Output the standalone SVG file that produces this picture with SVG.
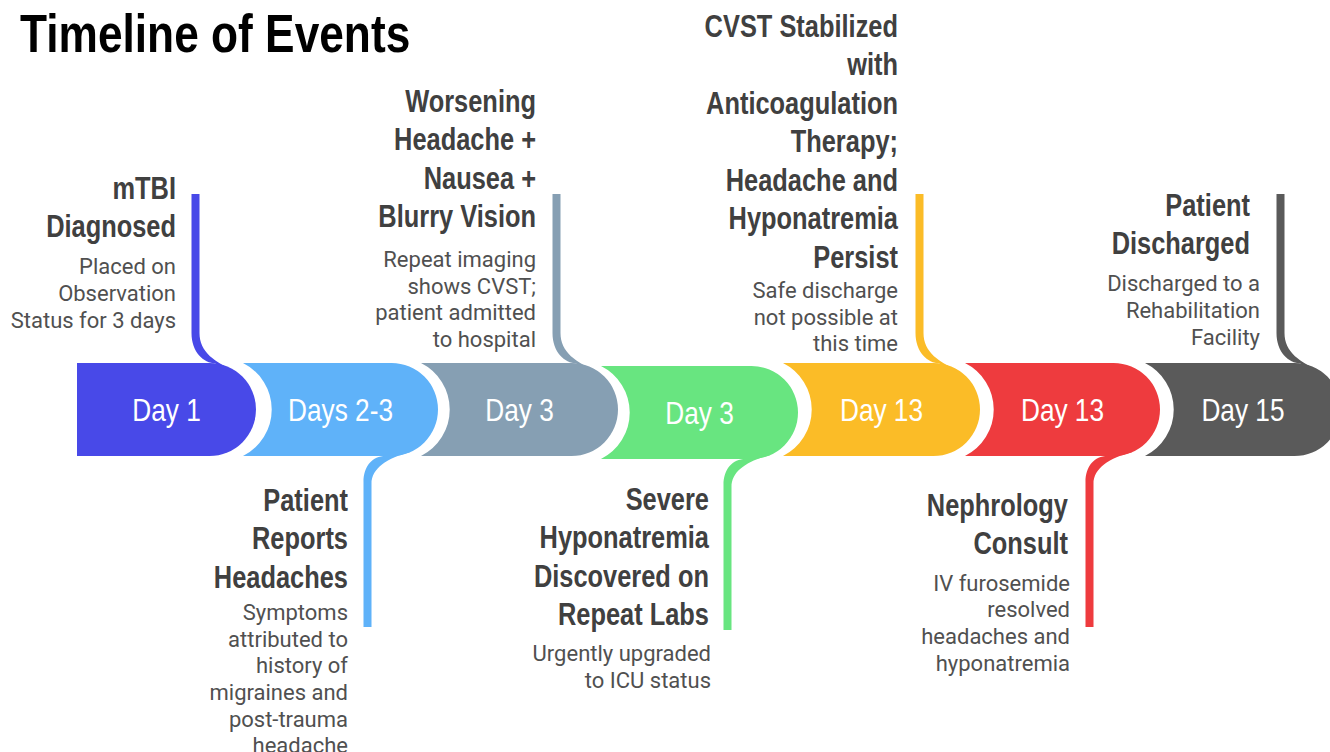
<svg xmlns="http://www.w3.org/2000/svg" width="1330" height="752" viewBox="0 0 1330 752">
<style>
.title{font-family:'Liberation Sans',Arial,sans-serif;font-weight:bold;font-size:54px;fill:#000}
.h{font-family:'Liberation Sans',Arial,sans-serif;font-weight:bold;font-size:31px;fill:#404040;text-anchor:end}
.b{font-family:Roboto,'Liberation Sans',sans-serif;font-size:22px;fill:#505050;text-anchor:end}
.lbl{font-family:'Liberation Sans',Arial,sans-serif;font-size:32px;fill:#fff;text-anchor:middle}
.c1{fill:#4849E8}.c2{fill:#5FB2F9}.c3{fill:#869FB3}.c4{fill:#68E580}.c5{fill:#FBBC27}.c6{fill:#EE3B3E}.c7{fill:#5A5A5A}
</style>
<rect width="1330" height="752" fill="#fff"/>
<g transform="scale(0.82 1)"><text class="title" x="24.4" y="52">Timeline of Events</text></g>

<g id="connectors">
<path class="c1" d="M191.5,194 V333 C191.5,352 203.5,363.3 215.5,363.3 L215.5,375 L236.5,372 C214.5,362 199.5,352 199.5,333 V194 Z"/>
<path class="c3" d="M552.5,194 V333 C552.5,352 564.5,363.3 576.5,363.3 L576.5,375 L597.5,372 C575.5,362 560.5,352 560.5,333 V194 Z"/>
<path class="c5" d="M915.5,194 V333 C915.5,352 927.5,363.3 939.5,363.3 L939.5,375 L960.5,372 C938.5,362 923.5,352 923.5,333 V194 Z"/>
<path class="c7" d="M1276.5,194 V333 C1276.5,352 1288.5,363.3 1300.5,363.3 L1300.5,375 L1321.5,372 C1299.5,362 1284.5,352 1284.5,333 V194 Z"/>
<path class="c2" d="M363.5,627 V482 C363.5,466 372.5,456 385.5,456 L385.5,446 L410.5,452 C387.5,458 371.5,468 371.5,484 V627 Z"/>
<path class="c4" d="M723.5,630 V485 C723.5,469 732.5,459 745.5,459 L745.5,449 L770.5,455 C747.5,461 731.5,471 731.5,487 V630 Z"/>
<path class="c6" d="M1085.5,627 V482 C1085.5,466 1094.5,456 1107.5,456 L1107.5,446 L1132.5,452 C1109.5,458 1093.5,468 1093.5,484 V627 Z"/>
</g>

<g id="node-1">
<path class="c1" d="M77,363 H209.5 A46.5,46.5 0 0 1 209.5,456 H77 Z"/>
<g transform="scale(0.82 1)">
<text class="lbl" x="203.05" y="421">Day 1</text>
<text class="h" x="214.63" y="199">mTBI</text>
<text class="h" x="214.63" y="237.5">Diagnosed</text>
</g>
<text class="b" x="176" y="274">Placed on</text>
<text class="b" x="176" y="301">Observation</text>
<text class="b" x="176" y="327.5">Status for 3 days</text>
</g>

<g id="node-2">
<path class="c2" d="M243,363 H391.5 A46.5,46.5 0 0 1 391.5,456 H243 A52,52 0 0 0 243,363 Z"/>
<g transform="scale(0.82 1)">
<text class="lbl" x="415.24" y="421">Days 2-3</text>
<text class="h" x="424.39" y="511">Patient</text>
<text class="h" x="424.39" y="549.5">Reports</text>
<text class="h" x="424.39" y="588">Headaches</text>
</g>
<text class="b" x="348" y="620">Symptoms</text>
<text class="b" x="348" y="646.7">attributed to</text>
<text class="b" x="348" y="673.4">history of</text>
<text class="b" x="348" y="700.1">migraines and</text>
<text class="b" x="348" y="726.8">post-trauma</text>
<text class="b" x="348" y="752.5">headache</text>
</g>

<g id="node-3">
<path class="c3" d="M421,363 H571.5 A46.5,46.5 0 0 1 571.5,456 H421 A52,52 0 0 0 421,363 Z"/>
<g transform="scale(0.82 1)">
<text class="lbl" x="633.54" y="421">Day 3</text>
<text class="h" x="653.66" y="112">Worsening</text>
<text class="h" x="653.66" y="150.5">Headache +</text>
<text class="h" x="653.66" y="189">Nausea +</text>
<text class="h" x="653.66" y="227.5">Blurry Vision</text>
</g>
<text class="b" x="536" y="267">Repeat imaging</text>
<text class="b" x="536" y="293.7">shows CVST;</text>
<text class="b" x="536" y="320.4">patient admitted</text>
<text class="b" x="536" y="347">to hospital</text>
</g>

<g id="node-4">
<path class="c4" d="M601,366 H751.5 A46.5,46.5 0 0 1 751.5,459 H601 A52,52 0 0 0 601,366 Z"/>
<g transform="scale(0.82 1)">
<text class="lbl" x="853.05" y="424">Day 3</text>
<text class="h" x="864.63" y="510">Severe</text>
<text class="h" x="864.63" y="548.5">Hyponatremia</text>
<text class="h" x="864.63" y="587">Discovered on</text>
<text class="h" x="864.63" y="625.5">Repeat Labs</text>
</g>
<text class="b" x="711" y="661">Urgently upgraded</text>
<text class="b" x="711" y="687.7">to ICU status</text>
</g>

<g id="node-5">
<path class="c5" d="M783,363 H933.5 A46.5,46.5 0 0 1 933.5,456 H783 A52,52 0 0 0 783,363 Z"/>
<g transform="scale(0.82 1)">
<text class="lbl" x="1075" y="421">Day 13</text>
<text class="h" x="1095.12" y="37">CVST Stabilized</text>
<text class="h" x="1095.12" y="75.5">with</text>
<text class="h" x="1095.12" y="114">Anticoagulation</text>
<text class="h" x="1095.12" y="152.5">Therapy;</text>
<text class="h" x="1095.12" y="191">Headache and</text>
<text class="h" x="1095.12" y="229.5">Hyponatremia</text>
<text class="h" x="1095.12" y="268">Persist</text>
</g>
<text class="b" x="898" y="298">Safe discharge</text>
<text class="b" x="898" y="324.7">not possible at</text>
<text class="b" x="898" y="351.4">this time</text>
</g>

<g id="node-6">
<path class="c6" d="M965,363 H1113.5 A46.5,46.5 0 0 1 1113.5,456 H965 A52,52 0 0 0 965,363 Z"/>
<g transform="scale(0.82 1)">
<text class="lbl" x="1295.73" y="421">Day 13</text>
<text class="h" x="1302.44" y="516">Nephrology</text>
<text class="h" x="1302.44" y="554.5">Consult</text>
</g>
<text class="b" x="1070" y="590.5">IV furosemide</text>
<text class="b" x="1070" y="617.2">resolved</text>
<text class="b" x="1070" y="643.9">headaches and</text>
<text class="b" x="1070" y="670.6">hyponatremia</text>
</g>

<g id="node-7">
<path class="c7" d="M1145,363 H1294.5 A46.5,46.5 0 0 1 1294.5,456 H1145 A52,52 0 0 0 1145,363 Z"/>
<g transform="scale(0.82 1)">
<text class="lbl" x="1515.85" y="421">Day 15</text>
<text class="h" x="1524.39" y="216">Patient</text>
<text class="h" x="1524.39" y="254.5">Discharged</text>
</g>
<text class="b" x="1260" y="291">Discharged to a</text>
<text class="b" x="1260" y="318">Rehabilitation</text>
<text class="b" x="1260" y="345">Facility</text>
</g>
</svg>
